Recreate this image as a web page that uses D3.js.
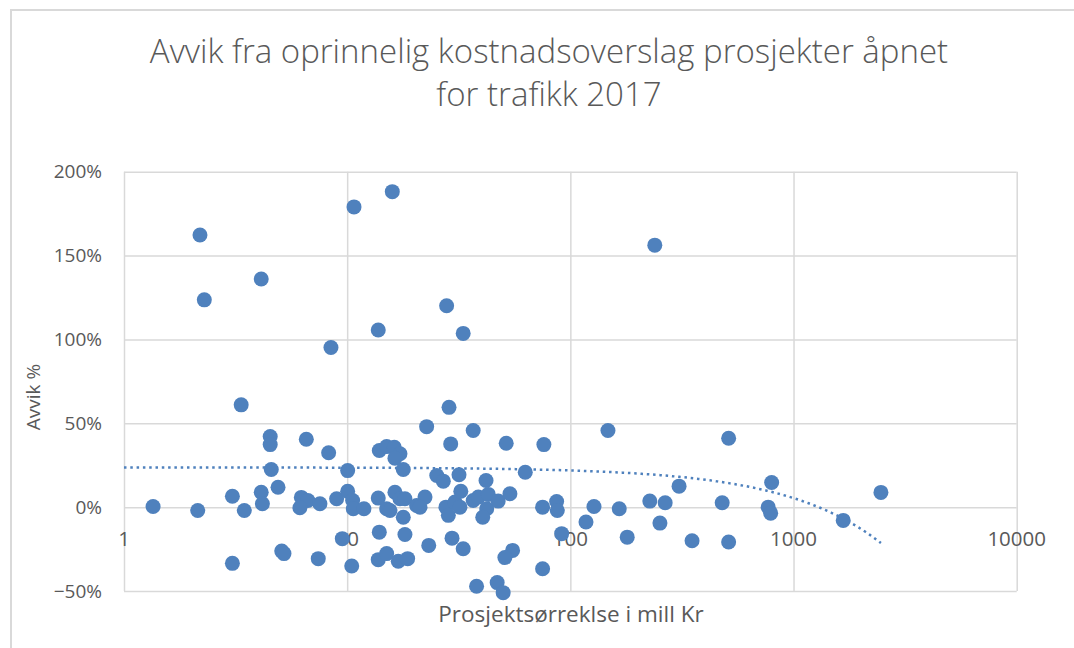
<!DOCTYPE html>
<html>
<head>
<meta charset="utf-8">
<script src="https://cdn.jsdelivr.net/npm/d3@7"></script>
<style>
    body { margin: 0; background: #fff; }
    svg text { font-family: "Calibri Light", "Open Sans", sans-serif; fill: #595959; }
</style>
</head>
<body>
<script>
// prosjektstørrelse (mill Kr) og avvik fra kostnadsoverslag (andel)
var sizes = [
    2.19, 2.29, 4.12, 8.46, 10.73, 15.93, 13.78, 27.9, 33.1, 239,
    3.35, 1.35, 2.14, 3.06, 3.46, 4.52, 4.52, 6.56, 8.26, 4.57,
    10.05, 4.90, 4.12, 4.17, 6.23, 6.67, 6.14, 7.55, 8.97, 10.05,
    9.51, 3.06, 5.09, 5.21, 7.42, 10.48, 28.6, 22.7, 36.7, 29.1,
    51.6, 76.1, 13.93, 15.03, 16.26, 17.24, 16.37, 17.84, 25.2, 26.96,
    31.7, 41.9, 62.8, 10.58, 10.65, 11.89, 13.78, 15.03, 16.37, 17.24,
    18.15, 15.55, 17.84, 20.48, 22.32, 21.2, 27.7, 28.4, 30.4, 32.3,
    32.0, 36.7, 38.7, 42.2, 40.5, 42.9, 47.5, 53.6, 75.1, 86.8,
    87.4, 127.6, 117.5, 91.4, 13.93, 18.15, 29.5, 23.2, 33.1, 13.78,
    15.03, 16.94, 18.66, 55.1, 50.9, 75.1, 38.0, 47.0, 50.0, 147.4,
    512, 798, 307, 2464, 227, 266, 479, 165.6, 770, 790,
    252, 1670, 179.8, 351, 512
];
var deviations = [
    1.623, 1.236, 1.360, 0.952, 1.790, 1.881, 1.056, 1.201, 1.036, 1.562,
    0.610, 0.004, -0.020, 0.065, -0.020, 0.421, 0.373, 0.405, 0.324, 0.224,
    0.218, 0.119, 0.089, 0.020, 0.058, 0.040, -0.004, 0.020, 0.050, 0.095,
    -0.188, -0.335, -0.262, -0.277, -0.307, -0.351, 0.595, 0.480, 0.457, 0.377,
    0.381, 0.373, 0.338, 0.361, 0.357, 0.318, 0.292, 0.224, 0.189, 0.155,
    0.193, 0.159, 0.208, 0.040, -0.010, -0.010, 0.054, -0.010, 0.089, 0.050,
    0.050, -0.020, -0.060, 0.010, 0.060, 0.000, 0.000, -0.049, 0.030, 0.095,
    0.000, 0.040, 0.060, -0.010, -0.060, 0.076, 0.036, 0.080, 0.000, 0.034,
    -0.020, 0.004, -0.089, -0.158, -0.149, -0.163, -0.185, -0.228, -0.248, -0.313,
    -0.277, -0.323, -0.307, -0.258, -0.301, -0.367, -0.472, -0.450, -0.510, 0.457,
    0.411, 0.147, 0.125, 0.088, 0.036, 0.026, 0.026, -0.010, 0.000, -0.036,
    -0.095, -0.079, -0.179, -0.200, -0.208
];
var xTicks = [1, 10, 100, 1000, 10000];
var yTicks = [-0.5, 0, 0.5, 1, 1.5, 2];
// lineær trendlinje, lest av figuren
var trendIntercept = 0.237;
var trendSlope = -0.000183;

var titleLines = ["Avvik fra oprinnelig kostnadsoverslag prosjekter åpnet", "for trafikk 2017"];
var xTitle = "Prosjektsørreklse i mill Kr";
var yTitle = "Avvik %";

var width = 1074, height = 648;
var plot = { left: 124, right: 1016.7, top: 171.7, bottom: 591 };
var blue = "#4f81bd";
var grid = "#d9d9d9";

var svg = d3.select("body").append("svg")
    .attr("width", width)
    .attr("height", height);

// ramme rundt diagrammet
svg.append("rect")
    .attr("x", 11).attr("y", 10)
    .attr("width", 1080).attr("height", 700)
    .attr("fill", "none")
    .attr("stroke", grid)
    .attr("stroke-width", 2);

var x = d3.scaleLog().domain([1, 10000]).range([plot.left, plot.right]);
var y = d3.scaleLinear().domain([-0.5, 2]).range([plot.bottom, plot.top]);

/**
 * Gridlines, drawn with the axis generators
 */
svg.append("g")
    .attr("transform", "translate(0," + plot.top + ")")
    .call(d3.axisBottom(x).tickValues(xTicks).tickSize(plot.bottom - plot.top).tickFormat(""))
    .call(function (g) { g.select(".domain").remove(); })
    .selectAll("line").attr("stroke", grid).attr("stroke-width", 1.5);

svg.append("g")
    .attr("transform", "translate(" + plot.left + ",0)")
    .call(d3.axisRight(y).tickValues(yTicks).tickSize(plot.right - plot.left).tickFormat(""))
    .call(function (g) { g.select(".domain").remove(); })
    .selectAll("line").attr("stroke", grid).attr("stroke-width", 1.5);

// y tick labels
svg.append("g")
    .selectAll("text")
    .data(yTicks)
    .join("text")
    .attr("x", 102)
    .attr("y", function (d) { return y(d) + 6.6; })
    .attr("text-anchor", "end")
    .style("font-size", "19px")
    .text(function (d) { return d3.format(".0%")(d); });

// x tick labels, sitting under the zero line
svg.append("g")
    .selectAll("text")
    .data(xTicks)
    .join("text")
    .attr("x", function (d) { return x(d); })
    .attr("y", y(0) + 39)
    .attr("text-anchor", "middle")
    .style("font-size", "20.5px")
    .text(function (d) { return d; });

// trendline
var trendX = d3.range(0, 200).map(function (i) {
    return Math.pow(10, i / 199 * Math.log10(d3.max(sizes)));
});
svg.append("path")
    .datum(trendX)
    .attr("fill", "none")
    .attr("stroke", blue)
    .attr("stroke-width", 2.5)
    .attr("stroke-dasharray", "2.5,3.8")
    .attr("d", d3.line()
        .x(function (d) { return x(d); })
        .y(function (d) { return y(trendIntercept + trendSlope * d); }));

// points
svg.append("g")
    .selectAll("circle")
    .data(sizes)
    .join("circle")
    .attr("cx", function (d) { return x(d); })
    .attr("cy", function (d, i) { return y(deviations[i]); })
    .attr("r", 7.5)
    .attr("fill", blue);

// titles
svg.append("text")
    .attr("x", 549).attr("y", 63)
    .attr("text-anchor", "middle")
    .style("font-size", "33px").style("font-weight", 300)
    .selectAll("tspan")
    .data(titleLines)
    .join("tspan")
    .attr("x", 549)
    .attr("dy", function (d, i) { return i ? 43 : 0; })
    .text(function (d) { return d; });

svg.append("text")
    .attr("x", 571).attr("y", 622)
    .attr("text-anchor", "middle")
    .style("font-size", "22.5px")
    .text(xTitle);

svg.append("text")
    .attr("transform", "translate(40,397) rotate(-90)")
    .attr("text-anchor", "middle")
    .style("font-size", "19px")
    .text(yTitle);
</script>
</body>
</html>
